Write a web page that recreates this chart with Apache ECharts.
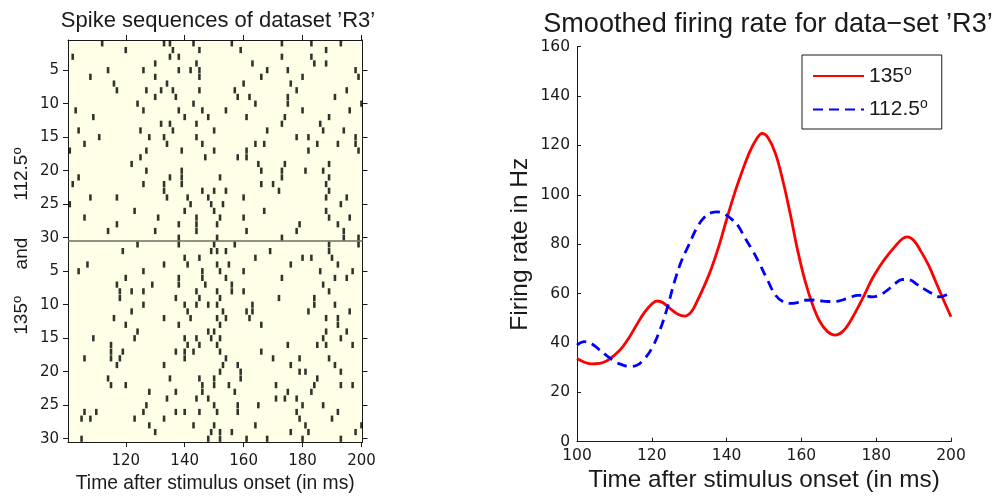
<!DOCTYPE html>
<html>
<head>
<meta charset="utf-8">
<script src="https://cdn.jsdelivr.net/npm/echarts@6/dist/echarts.min.js"></script>
<style>
html,body{margin:0;padding:0;background:#fff;}
#c{width:995px;height:498px;}
</style>
</head>
<body>
<div id="c"></div>
<script>
// Spike times (ms) per trial, 112.5 deg (top block, trials 1..30)
var trials112 = [
  [112,133,135,143,156,173,183,193],
  [120,136,145,159,188],
  [102,135,138,173,183],
  [130,144,163,184,188],
  [114,126,138,142,145,168,175,198],
  [108,130,145,166,180,199],
  [116,134,160,176],
  [117,127,132,136,145,157,178,195],
  [130,137,158,162,175,191],
  [124,143,164,175,200],
  [103,126,138,146,154,180,196],
  [109,140,148,161,174,189],
  [132,135,144,173,186],
  [104,125,136,150,168,187,194],
  [111,128,133,144,178,182,198],
  [106,134,146,164,167,185,192,198],
  [101,127,139,150,161,182,199],
  [125,147,158,161],
  [122,165,174,189],
  [127,139,166,173,181,187],
  [104,135,139,152,173,189],
  [102,126,133,139,166,170,188],
  [133,146,150,154,172,189],
  [108,117,134,141,148,160,188,195],
  [101,142,149,153,193],
  [123,140,150,167,188],
  [106,131,144,152,160,189,196],
  [117,138,144,151,179,192],
  [114,130,144,161,178,194],
  [138,151,173,194,199]
];
// Spike times (ms) per trial, 135 deg (bottom block, trials 1..30)
var trials135 = [
  [124,138,150,157,189,199],
  [119,149,151,154,169,189],
  [140,145,164,180,183,190],
  [107,133,141,151,155,176,192],
  [104,126,146,152,160,186,197],
  [120,138,146,154,173,191,195],
  [117,129,138,147,156,187],
  [118,122,126,144,151,156,160,189],
  [118,137,145,152,172,184],
  [126,140,144,148,151,163,184,191],
  [122,141,153,161,163,182,196],
  [116,133,142,151,154,162,188,192],
  [120,138,152,166,192],
  [124,148,150,188,195],
  [109,123,140,144,149,152,187,193],
  [115,141,145,151,175,185,188,197],
  [115,119,137,140,143,152,166],
  [106,115,118,140,154,170,179,189],
  [117,133,153,158,176,191],
  [152,159,179,181,193],
  [114,135,145,150,159,185],
  [115,120,146,150,155,171,184,193,197],
  [128,137,146,157,175,183],
  [134,144,148,171,174,178],
  [127,150,158,165,180,187],
  [106,110,126,137,140,145,151,158,178,192],
  [105,108,123,133,179,190],
  [128,143,150,164,181,200],
  [130,149,152,156,176,182,198],
  [105,148,152,161,168,180,193]
];
var rasterXTicks = [120,140,160,180,200];
var rasterYTicks = [5,10,15,20,25,30,35,40,45,50,55,60];

// Smoothed firing rate curves: [time ms, rate Hz]
var rate135 = [[100,33.7],[102,32.2],[104,31.5],[106,31.7],[108,32.8],[110,35],[112,38],[114,42.3],[116,47.5],[118,52.3],[120,55.8],[121.5,57],[123,56.3],[125,53.8],[127,51.6],[128.8,50.9],[130.5,52.5],[132,56.5],[134,63],[136,70.5],[138,79.5],[140,90],[142,100],[144,108.8],[146,116.8],[148,122.6],[149.5,124.9],[151,123.3],[153,117],[155,106],[157,92.4],[159,77.5],[161,65],[163,55.5],[165,48.5],[167,44.6],[169,43.2],[171,44.6],[173,48.6],[175,54],[177,60],[179,66.2],[181,71.2],[183,75.4],[185,79],[187,82.2],[188.3,83],[190,81.6],[192,77],[194,71.5],[196,64.5],[198,57.4],[200,50.6]];
var rate112 = [[100,39.1],[102,40.5],[104,39.6],[106,37.2],[108,34.8],[110,32.6],[112,31.2],[114,30.5],[116,31],[118,33.5],[120,37.8],[122,44.5],[124,53.5],[126,64.5],[128,73.5],[130,80],[132,86.5],[134,90.8],[136,92.8],[137.5,93.1],[139,92.6],[141,90.6],[143,87.6],[145,82.3],[147,77.3],[149,71.5],[151,65.3],[153,59.5],[155,56.8],[157,56],[159,56.4],[161,57.3],[163,57.4],[165,57.1],[167,56.8],[169,56.8],[171,57.4],[173,58.4],[175,59.3],[177,59.1],[179,58.7],[181,59.4],[183,61.4],[185,64],[187,65.7],[189,65.5],[191,63.6],[193,61.7],[195,60],[197,58.7],[198.5,59.3],[200,60.7]];

var spikes = [];
trials112.forEach(function (row, i) { row.forEach(function (t) { spikes.push([t, i + 1]); }); });
trials135.forEach(function (row, i) { row.forEach(function (t) { spikes.push([t, i + 31]); }); });

var TICK = 'DejaVu Sans';
var TXT = 'Liberation Sans';
var ink = '#1a1a1a';

var chart = echarts.init(document.getElementById('c'), null, {renderer: 'canvas'});
var axisLineStyle = {color: ink, width: 1};

chart.setOption({
  animation: false,
  backgroundColor: '#ffffff',
  title: [
    {text: 'Spike sequences of dataset \u2019R3\u2019', left: 213, top: 5, textAlign: 'center',
     textStyle: {fontFamily: TXT, fontSize: 22, fontWeight: 'normal', color: ink}},
    {text: 'Smoothed firing rate for data\u2212set \u2019R3\u2019', left: 763, top: 6, textAlign: 'center',
     textStyle: {fontFamily: TXT, fontSize: 27.1, fontWeight: 'normal', color: ink}}
  ],
  legend: {
    orient: 'vertical', left: 802, top: 55,
    data: ['135', '112.5'],
    itemWidth: 51, itemHeight: 20, itemGap: 11,
    padding: [9, 14, 9, 10],
    backgroundColor: '#ffffff', borderColor: ink, borderWidth: 1,
    itemStyle: {color: 'rgba(0,0,0,0)', borderColor: 'rgba(0,0,0,0)', borderWidth: 0, opacity: 0},
    formatter: function (name) { return '{n|' + name + '}{s|o}'; },
    textStyle: {
      rich: {
        n: {fontFamily: TXT, fontSize: 21, color: ink, lineHeight: 24},
        s: {fontFamily: TXT, fontSize: 14, color: ink, lineHeight: 14, verticalAlign: 'top'}
      }
    }
  },
  grid: [
    {left: 68, top: 40, width: 294.5, height: 402.7, show: true, backgroundColor: '#fffee6', borderWidth: 0, containLabel: false},
    {left: 577, top: 46.7, width: 374, height: 395, containLabel: false}
  ],
  xAxis: [
    {type: 'value', gridIndex: 0, position: 'bottom', min: 100.4, max: 200.35,
     axisLine: {show: true, lineStyle: axisLineStyle},
     axisTick: {show: true, inside: false, length: 5, customValues: rasterXTicks, lineStyle: axisLineStyle},
     axisLabel: {customValues: rasterXTicks, fontFamily: TICK, fontSize: 15, color: ink, margin: 12},
     splitLine: {show: false},
     name: 'Time after stimulus onset (in ms)', nameLocation: 'middle', nameGap: 30,
     nameTextStyle: {fontFamily: TXT, fontSize: 19.3, color: ink}},
    {type: 'value', gridIndex: 0, position: 'top', min: 100.4, max: 200.35,
     axisLine: {show: true, lineStyle: axisLineStyle},
     axisTick: {show: true, inside: false, length: 5, customValues: rasterXTicks, lineStyle: axisLineStyle},
     axisLabel: {show: false}, splitLine: {show: false}},
    {type: 'value', gridIndex: 1, position: 'bottom', min: 100, max: 200, interval: 20,
     axisLine: {show: true, lineStyle: axisLineStyle},
     axisTick: {show: true, inside: true, length: 4, lineStyle: axisLineStyle},
     axisLabel: {fontFamily: TICK, fontSize: 15.5, color: ink, margin: 6},
     splitLine: {show: false},
     name: 'Time after stimulus onset (in ms)', nameLocation: 'middle', nameGap: 26,
     nameTextStyle: {fontFamily: TXT, fontSize: 24.3, color: ink}}
  ],
  yAxis: [
    {type: 'value', gridIndex: 0, position: 'left', inverse: true, min: 0.5, max: 60.5,
     axisLine: {show: true, lineStyle: axisLineStyle},
     axisTick: {show: true, inside: false, length: 5, customValues: rasterYTicks, lineStyle: axisLineStyle},
     axisLabel: {customValues: rasterYTicks, fontFamily: TICK, fontSize: 15, color: ink, margin: 9,
                 formatter: function (v) { return String(v > 30 ? v - 30 : v); }},
     splitLine: {show: false},
     name: '{n|135}{s|o}{n|     and       }{n|112.5}{s|o}', nameLocation: 'middle', nameGap: 36,
     nameTextStyle: {rich: {
       n: {fontFamily: TXT, fontSize: 19, color: ink, lineHeight: 21},
       s: {fontFamily: TXT, fontSize: 13, color: ink, lineHeight: 13, verticalAlign: 'top'}
     }}},
    {type: 'value', gridIndex: 0, position: 'right', inverse: true, min: 0.5, max: 60.5,
     axisLine: {show: true, lineStyle: axisLineStyle},
     axisTick: {show: true, inside: false, length: 5, customValues: rasterYTicks, lineStyle: axisLineStyle},
     axisLabel: {show: false}, splitLine: {show: false}},
    {type: 'value', gridIndex: 1, position: 'left', min: 0, max: 160, interval: 20,
     axisLine: {show: true, lineStyle: axisLineStyle},
     axisTick: {show: true, inside: true, length: 4, lineStyle: axisLineStyle},
     axisLabel: {fontFamily: TICK, fontSize: 15.5, color: ink, margin: 7},
     splitLine: {show: false},
     name: 'Firing rate in Hz', nameLocation: 'middle', nameGap: 44,
     nameTextStyle: {fontFamily: TXT, fontSize: 24.5, color: ink}}
  ],
  series: [
    {type: 'scatter', xAxisIndex: 0, yAxisIndex: 0, symbol: 'rect', symbolSize: [2.6, 6.2],
     itemStyle: {color: '#000000'}, data: spikes, silent: true,
     markLine: {silent: true, symbol: 'none', label: {show: false},
                lineStyle: {color: '#6e6e62', width: 1.6, type: 'solid'},
                data: [{yAxis: 30.5}]}},
    {type: 'line', name: '135', xAxisIndex: 2, yAxisIndex: 2, data: rate135, smooth: 0.4,
     symbol: 'none', lineStyle: {color: '#ff0000', width: 2.8}, itemStyle: {color: '#ff0000'}},
    {type: 'line', name: '112.5', xAxisIndex: 2, yAxisIndex: 2, data: rate112, smooth: 0.4,
     symbol: 'none', lineStyle: {color: '#0000ff', width: 2.8, type: [10, 6]}, itemStyle: {color: '#0000ff'}}
  ]
});
</script>
</body>
</html>
